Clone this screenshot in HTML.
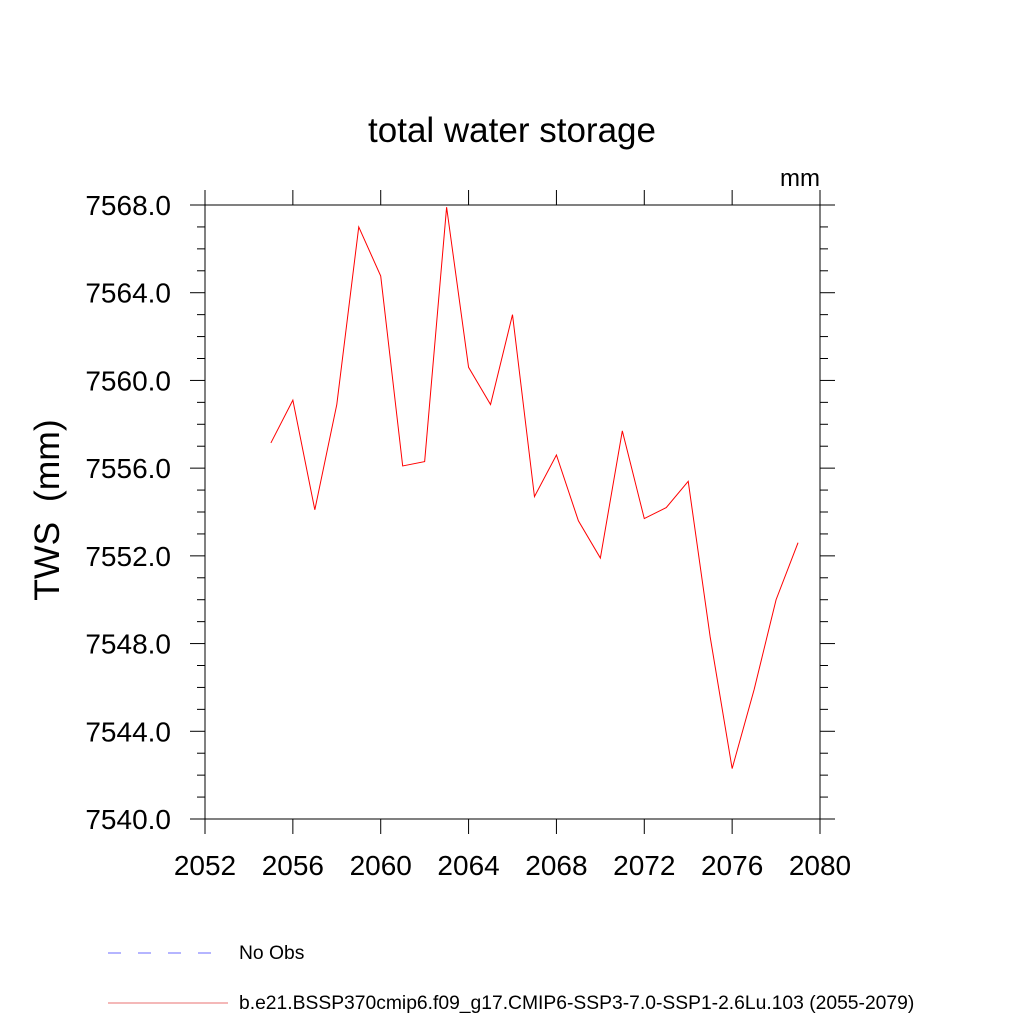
<!DOCTYPE html>
<html><head><meta charset="utf-8"><style>
body{margin:0;background:#fff}
svg text{font-family:"Liberation Sans",sans-serif}
</style></head><body>
<svg id="chart" width="1024" height="1024" xmlns="http://www.w3.org/2000/svg">
<text x="512" y="142" font-size="35" text-anchor="middle">total water storage</text>
<text x="820" y="186" font-size="24" text-anchor="end">mm</text>
<text transform="translate(59,510) rotate(-90)" font-size="35.5" text-anchor="middle">TWS&#160; (mm)</text>
<g id="axes"></g>
<g id="series"></g>
<g>
<line x1="108" y1="953" x2="215" y2="953" stroke="#6b6bff" stroke-width="1" stroke-dasharray="13,17"/>
<text x="239" y="959" font-size="19.3">No Obs</text>
<line x1="108" y1="1003" x2="228" y2="1003" stroke="#e87070" stroke-width="1"/>
<text x="239" y="1009" font-size="19.3">b.e21.BSSP370cmip6.f09_g17.CMIP6-SSP3-7.0-SSP1-2.6Lu.103 (2055-2079)</text>
</g>
</svg>
<script>
const years=[2055,2056,2057,2058,2059,2060,2061,2062,2063,2064,2065,2066,2067,2068,2069,2070,2071,2072,2073,2074,2075,2076,2077,2078,2079];
const tws=[7557.15,7559.1,7554.1,7558.9,7567.0,7564.76,7556.1,7556.3,7567.9,7560.6,7558.9,7563.0,7554.7,7556.6,7553.6,7551.9,7557.7,7553.7,7554.2,7555.4,7548.3,7542.3,7545.9,7550.0,7552.6];
const xTicks=[2052,2056,2060,2064,2068,2072,2076,2080];
const yTicks=[7540,7544,7548,7552,7556,7560,7564,7568];
const X0=205,X1=820,Y0=819,Y1=205;
const xs=v=>X0+(v-2052)/(2080-2052)*(X1-X0);
const ys=v=>Y0-(v-7540)/(7568-7540)*(Y0-Y1);
const NS='http://www.w3.org/2000/svg';
const axes=document.getElementById('axes');
function ln(x1,y1,x2,y2,name){const l=document.createElementNS(NS,'line');
l.setAttribute('x1',x1);l.setAttribute('y1',y1);l.setAttribute('x2',x2);l.setAttribute('y2',y2);
l.setAttribute('stroke','#000');l.setAttribute('stroke-width','1');


axes.appendChild(l);}
const fr=document.createElementNS(NS,'rect');
fr.setAttribute('x',X0);fr.setAttribute('y',Y1);fr.setAttribute('width',X1-X0);fr.setAttribute('height',Y0-Y1);
fr.setAttribute('fill','none');fr.setAttribute('stroke','#000');


axes.appendChild(fr);
xTicks.forEach(t=>{const x=xs(t);ln(x,Y0,x,Y0+15,'x-tick');ln(x,Y1,x,Y1-15,'x-tick-top');
const tx=document.createElementNS(NS,'text');tx.setAttribute('x',x);tx.setAttribute('y',875);tx.setAttribute('font-size','28');tx.setAttribute('text-anchor','middle');tx.textContent=t;


axes.appendChild(tx);});
for(let v=7540;v<=7568;v++){const y=ys(v);const maj=(v-7540)%4===0;const L=maj?15:8;
ln(X0-L,y,X0,y,maj?'y-tick':'y-minor-tick');ln(X1,y,X1+L,y,maj?'y-tick-right':'y-minor-tick-right');}
yTicks.forEach(t=>{const tx=document.createElementNS(NS,'text');tx.setAttribute('x',171);tx.setAttribute('y',ys(t)+10);tx.setAttribute('font-size','28');tx.setAttribute('text-anchor','end');tx.textContent=t.toFixed(1);


axes.appendChild(tx);});
const p=document.createElementNS(NS,'polyline');
p.setAttribute('points',years.map((y,i)=>xs(y)+','+ys(tws[i])).join(' '));
p.setAttribute('fill','none');p.setAttribute('stroke','#ff0000');p.setAttribute('stroke-width','1');


document.getElementById('series').appendChild(p);
</script>
</body></html>
